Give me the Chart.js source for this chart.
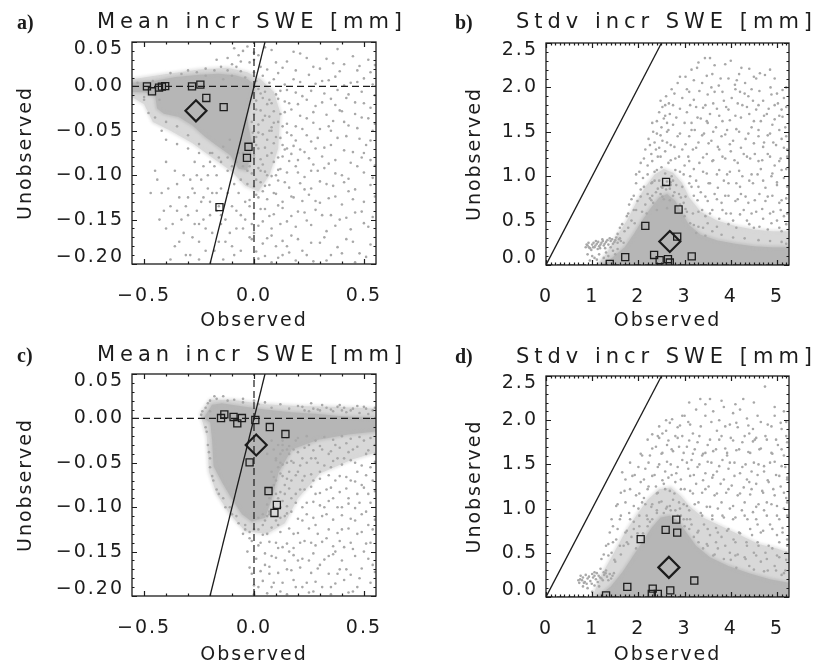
<!DOCTYPE html>
<html>
<head>
<meta charset="utf-8">
<script src="https://cdn.jsdelivr.net/npm/chart.js@4/dist/chart.umd.min.js"></script>
<style>
  html, body { margin: 0; padding: 0; background: #fff; }
  body { position: relative; width: 819px; height: 668px; overflow: hidden; }
  canvas { position: absolute; }
  .tag, .ttl { position: absolute; white-space: nowrap; color: #1c1c1c; will-change: transform; }
  .tag { font: bold 20px 'Liberation Serif', 'DejaVu Serif', serif; line-height: 20px; }
  .ttl { font: 21px 'DejaVu Sans', sans-serif; line-height: 21px; }
</style>
</head>
<body>
<div class="tag" style="left:17px;top:12px">a)</div>
<div class="ttl" data-w="310" style="left:97px;top:11px">Mean incr SWE [mm]</div>
<div class="tag" style="left:455px;top:12px">b)</div>
<div class="ttl" data-w="301" style="left:516px;top:11px">Stdv incr SWE [mm]</div>
<div class="tag" style="left:17px;top:345px">c)</div>
<div class="ttl" data-w="310" style="left:97px;top:344px">Mean incr SWE [mm]</div>
<div class="tag" style="left:455px;top:346px">d)</div>
<div class="ttl" data-w="301" style="left:516px;top:346px">Stdv incr SWE [mm]</div>

<canvas id="pa" width="410" height="334" style="left:0;top:0"></canvas>
<canvas id="pb" width="409" height="334" style="left:410px;top:0"></canvas>
<canvas id="pc" width="410" height="334" style="left:0;top:334px"></canvas>
<canvas id="pd" width="409" height="334" style="left:410px;top:334px"></canvas>

<script>
const INK = '#1c1c1c';
const CORE_GRAY = '#b6b6b6';
const HALO_GRAY = '#d8d8d8';
const PIXEL_GRAY = '#a8a8a8';
const FONT = "'DejaVu Sans', sans-serif";

// ---- axes ----
const MEAN_X_TICKS = [-0.5, 0, 0.5];
const MEAN_X_LABELS = ['\u22120.5', '0.0', '0.5'];
const MEAN_Y_TICKS = [-0.2, -0.15, -0.1, -0.05, 0, 0.05];
const MEAN_Y_LABELS = ['\u22120.20', '\u22120.15', '\u22120.10', '\u22120.05', '0.00', '0.05'];
const STDV_X_TICKS = [0, 1, 2, 3, 4, 5];
const STDV_X_LABELS = ['0', '1', '2', '3', '4', '5'];
const STDV_Y_TICKS = [0, 0.5, 1, 1.5, 2, 2.5];
const STDV_Y_LABELS = ['0.0', '0.5', '1.0', '1.5', '2.0', '2.5'];

// ---- a) mean increments, first experiment ----
const A_CORE = [[-0.555,0.004],[-0.464,0.0057],[-0.358,0.0106],[-0.252,0.0132],[-0.161,0.0143],[-0.085,0.0125],[-0.032,0.0087],[-0.002,0.003],
  [0.003,-0.0044],[-0.017,-0.0157],[-0.032,-0.0307],[-0.025,-0.0457],[-0.01,-0.0626],[-0.017,-0.0795],[-0.032,-0.0945],
  [-0.07,-0.0926],[-0.108,-0.0776],[-0.161,-0.0682],[-0.222,-0.057],[-0.282,-0.0438],[-0.343,-0.0345],[-0.411,-0.0307],[-0.441,-0.025],[-0.449,-0.012],[-0.494,-0.007],[-0.555,-0.0063],[-0.555,0.004]];
const A_HALO = [[-0.555,0.008],[-0.4,0.014],[-0.25,0.019],[-0.12,0.021],[-0.03,0.016],[0.03,0.008],[0.09,-0.006],[0.12,-0.03],[0.11,-0.07],[0.07,-0.1],
  [0.02,-0.118],[-0.04,-0.112],[-0.1,-0.096],[-0.18,-0.082],[-0.28,-0.064],[-0.38,-0.05],[-0.46,-0.04],[-0.5,-0.02],[-0.555,-0.012],[-0.555,0.008]];
const A_PIXELS = [
  [0.02,0.035],[0.08,0.041],[0.15,0.028],[0.21,0.037],[0.27,0.022],[0.33,0.031],[0.41,0.025],[0.47,0.018],[0.52,0.03],
  [0.04,0.012],[0.11,0.015],[0.18,0.008],[0.25,0.013],[0.31,0.006],[0.37,0.011],[0.44,0.004],[0.5,0.009],
  [0.03,-0.008],[0.07,-0.015],[0.12,-0.005],[0.16,-0.019],[0.22,-0.011],[0.28,-0.022],[0.35,-0.014],[0.39,-0.027],[0.46,-0.018],[0.53,-0.024],
  [0.01,-0.026],[0.05,-0.033],[0.09,-0.041],[0.14,-0.029],[0.19,-0.045],[0.24,-0.036],[0.3,-0.048],[0.36,-0.039],[0.43,-0.044],[0.49,-0.035],[0.54,-0.05],
  [0.02,-0.052],[0.06,-0.06],[0.1,-0.057],[0.13,-0.066],[0.17,-0.055],[0.21,-0.071],[0.26,-0.062],[0.32,-0.069],[0.38,-0.058],[0.45,-0.074],[0.51,-0.066],
  [0.0,-0.08],[0.04,-0.088],[0.08,-0.075],[0.12,-0.093],[0.16,-0.084],[0.2,-0.097],[0.25,-0.081],[0.29,-0.095],[0.34,-0.087],[0.4,-0.1],[0.47,-0.09],[0.53,-0.083],
  [0.01,-0.105],[0.05,-0.112],[0.09,-0.12],[0.14,-0.108],[0.18,-0.125],[0.23,-0.116],[0.28,-0.129],[0.33,-0.11],[0.37,-0.124],[0.43,-0.118],[0.5,-0.13],
  [0.03,-0.138],[0.07,-0.146],[0.11,-0.134],[0.15,-0.152],[0.2,-0.141],[0.26,-0.156],[0.31,-0.145],[0.39,-0.15],[0.46,-0.142],[0.52,-0.158],
  [0.0,-0.165],[0.06,-0.171],[0.1,-0.18],[0.17,-0.168],[0.22,-0.185],[0.3,-0.176],[0.35,-0.19],[0.42,-0.172],[0.48,-0.188],
  [0.02,-0.194],[0.08,-0.198],[0.13,-0.19],[0.27,-0.197],
  [-0.01,-0.04],[0.0,-0.062],[0.02,-0.07],[0.03,-0.095],[0.06,-0.1],[0.07,-0.05],[0.09,-0.028],[0.11,-0.08],[0.04,-0.118],[-0.02,-0.09],
  [-0.03,-0.11],[0.02,-0.125],[0.1,-0.1],[0.13,-0.045],[0.06,-0.02],[0.15,-0.07],
  [-0.18,0.018],[-0.12,0.032],[-0.08,0.022],[-0.05,0.04],[-0.02,0.027],[-0.1,0.012],[-0.14,0.008],[0.0,0.016],[-0.04,0.01],[-0.22,0.012],
  [-0.42,-0.12],[-0.38,-0.135],[-0.4,-0.16],[-0.35,-0.11],[-0.33,-0.15],[-0.3,-0.125],[-0.28,-0.17],[-0.31,-0.19],[-0.26,-0.14],[-0.24,-0.105],
  [-0.22,-0.16],[-0.2,-0.13],[-0.18,-0.185],[-0.17,-0.1],[-0.15,-0.155],[-0.12,-0.12],[-0.1,-0.09],[-0.13,-0.175],[-0.08,-0.14],[-0.06,-0.105],
  [-0.05,-0.16],[-0.09,-0.19],[-0.36,-0.095],[-0.27,-0.085],[-0.19,-0.075],[-0.14,-0.068],[-0.11,-0.06],[-0.45,-0.095],[-0.4,-0.085],[-0.34,-0.175],
  [-0.25,-0.195],[-0.21,-0.115],[-0.16,-0.135],[-0.07,-0.075],[-0.04,-0.13],[-0.02,-0.17],[-0.29,-0.105],[-0.23,-0.09],
  [-0.5,-0.012],[-0.46,0.006],[-0.53,0.004],[-0.43,-0.015],
  [-0.4,-0.04],[-0.35,-0.045],[-0.3,-0.055],[-0.25,-0.065],[-0.2,-0.075],[-0.15,-0.085],[-0.45,-0.035],[-0.5,-0.015],[-0.3,0.018],[-0.22,0.02],
  [-0.38,0.015],[-0.12,0.018],[-0.06,0.017],
  [0.05,0.044],[0.18,0.039],[0.38,0.042],[0.0,0.03],[0.1,0.027],[0.24,0.032],[0.36,0.026],[0.45,0.034],[0.55,0.024],
  [0.03,0.022],[0.06,0.019],[0.13,0.021],[0.19,0.018],[0.3,0.02],[0.39,0.017],[0.48,0.023],[0.53,0.016],
  [0.01,0.006],[0.07,0.004],[0.09,0.008],[0.14,0.002],[0.21,0.005],[0.28,0.003],[0.34,0.007],[0.41,0.001],[0.47,0.005],[0.54,0.002],
  [0.02,-0.003],[0.05,-0.006],[0.1,-0.009],[0.15,-0.004],[0.19,-0.007],[0.26,-0.005],[0.32,-0.008],[0.38,-0.004],[0.43,-0.009],[0.49,-0.006],[0.55,-0.01],
  [0.01,-0.016],[0.04,-0.013],[0.08,-0.019],[0.11,-0.014],[0.14,-0.017],[0.2,-0.02],[0.24,-0.015],[0.31,-0.018],[0.37,-0.021],[0.42,-0.013],[0.5,-0.019],
  [0.0,-0.031],[0.03,-0.027],[0.07,-0.034],[0.12,-0.031],[0.17,-0.026],[0.21,-0.033],[0.27,-0.029],[0.33,-0.032],[0.4,-0.028],[0.46,-0.031],[0.52,-0.036],
  [0.02,-0.043],[0.04,-0.038],[0.08,-0.046],[0.11,-0.04],[0.15,-0.042],[0.22,-0.048],[0.27,-0.041],[0.34,-0.045],[0.41,-0.04],[0.47,-0.047],[0.55,-0.042],
  [-0.005,-0.052],[0.01,-0.057],[0.04,-0.054],[0.08,-0.05],[0.12,-0.058],[0.15,-0.052],[0.19,-0.061],[0.24,-0.055],[0.29,-0.058],[0.35,-0.05],[0.42,-0.056],[0.48,-0.059],[0.53,-0.061],
  [0.01,-0.066],[0.05,-0.069],[0.09,-0.064],[0.14,-0.071],[0.18,-0.067],[0.23,-0.074],[0.28,-0.07],[0.35,-0.066],[0.41,-0.072],[0.5,-0.075],
  [0.0,-0.077],[0.03,-0.082],[0.06,-0.078],[0.09,-0.085],[0.13,-0.079],[0.17,-0.076],[0.2,-0.083],[0.27,-0.088],[0.31,-0.079],[0.37,-0.083],[0.44,-0.086],[0.49,-0.08],[0.55,-0.089],
  [-0.01,-0.098],[0.02,-0.092],[0.05,-0.096],[0.08,-0.101],[0.11,-0.094],[0.15,-0.097],[0.19,-0.09],[0.23,-0.102],[0.26,-0.095],[0.32,-0.092],[0.37,-0.098],[0.43,-0.104],[0.5,-0.097],[0.54,-0.103],
  [0.0,-0.113],[0.03,-0.108],[0.07,-0.111],[0.11,-0.106],[0.16,-0.114],[0.21,-0.109],[0.26,-0.115],[0.3,-0.107],[0.36,-0.112],[0.41,-0.108],[0.46,-0.116],[0.53,-0.111],
  [-0.02,-0.128],[0.01,-0.122],[0.06,-0.127],[0.1,-0.121],[0.13,-0.13],[0.17,-0.124],[0.22,-0.129],[0.25,-0.122],[0.3,-0.131],[0.34,-0.126],[0.4,-0.133],[0.45,-0.127],[0.55,-0.124],
  [0.0,-0.143],[0.05,-0.138],[0.09,-0.144],[0.13,-0.137],[0.17,-0.146],[0.23,-0.142],[0.28,-0.139],[0.35,-0.145],[0.42,-0.148],[0.49,-0.141],[0.54,-0.147],
  [0.02,-0.157],[0.04,-0.152],[0.08,-0.16],[0.12,-0.155],[0.19,-0.158],[0.24,-0.151],[0.33,-0.163],[0.37,-0.157],[0.44,-0.161],[0.5,-0.154],
  [-0.01,-0.172],[0.04,-0.177],[0.08,-0.168],[0.13,-0.174],[0.15,-0.18],[0.2,-0.172],[0.26,-0.176],[0.32,-0.17],[0.38,-0.181],[0.45,-0.175],[0.53,-0.178],
  [0.01,-0.186],[0.05,-0.191],[0.11,-0.193],[0.16,-0.187],[0.19,-0.196],[0.24,-0.19],[0.33,-0.196],[0.4,-0.188],[0.46,-0.198],[0.51,-0.192],
  [-0.44,-0.105],[-0.41,-0.14],[-0.39,-0.115],[-0.37,-0.155],[-0.36,-0.18],[-0.34,-0.125],[-0.32,-0.1],[-0.32,-0.165],[-0.3,-0.145],[-0.29,-0.19],
  [-0.27,-0.12],[-0.27,-0.155],[-0.25,-0.175],[-0.24,-0.13],[-0.23,-0.15],[-0.22,-0.185],[-0.21,-0.1],[-0.2,-0.145],[-0.19,-0.165],[-0.19,-0.12],
  [-0.18,-0.09],[-0.17,-0.14],[-0.16,-0.175],[-0.15,-0.115],[-0.14,-0.195],[-0.13,-0.15],[-0.12,-0.095],[-0.11,-0.165],[-0.1,-0.135],[-0.1,-0.18],
  [-0.09,-0.11],[-0.08,-0.16],[-0.07,-0.12],[-0.06,-0.145],[-0.06,-0.185],[-0.05,-0.09],[-0.04,-0.15],[-0.03,-0.095],[-0.02,-0.135],[-0.01,-0.155],
  [-0.35,-0.14],[-0.31,-0.135],[-0.28,-0.115],[-0.26,-0.1],[-0.25,-0.155],[-0.23,-0.125],[-0.17,-0.12],[-0.15,-0.145],[-0.43,-0.15],[-0.38,-0.195],
  [-0.47,-0.12],[-0.05,-0.075],[-0.08,-0.085],[-0.12,-0.08],[-0.16,-0.08],[-0.2,-0.085],[-0.25,-0.075],[-0.3,-0.07],[-0.35,-0.065],[-0.4,-0.06],
  [-0.42,-0.05],[-0.48,-0.03],
  [-0.17,0.03],[-0.1,0.025],[-0.07,0.035],[-0.03,0.045],[-0.15,0.022],[-0.26,0.016],[-0.33,0.014],[-0.06,0.028],[0.0,0.038],[-0.09,0.043]
];
const A_REGIONS = [[-0.487,0.0],[-0.464,-0.0055],[-0.432,-0.0014],[-0.419,-0.0003],[-0.404,0.0003],[-0.282,0.0],[-0.244,0.002],[-0.217,-0.013],[-0.138,-0.0234],[-0.025,-0.068],[-0.032,-0.0805],[-0.157,-0.136]];
const A_MEAN = [[-0.264,-0.0275]];

// ---- b) standard deviation of increments, first experiment ----
const B_CORE = [[1.2,0],[1.45,0.09],[1.7,0.2],[1.9,0.35],[2.08,0.5],[2.25,0.63],[2.45,0.76],[2.62,0.8],[2.8,0.72],[2.95,0.58],[3.1,0.45],[3.35,0.34],[3.7,0.28],[4.1,0.24],[4.5,0.21],[4.9,0.2],[5.27,0.2],[5.27,0],[1.2,0]];
const B_HALO = [[1.1,0],[1.3,0.12],[1.5,0.3],[1.75,0.5],[1.95,0.7],[2.15,0.88],[2.35,1.02],[2.55,1.08],[2.75,1.04],[2.95,0.92],[3.1,0.76],[3.35,0.6],
  [3.7,0.5],[4.1,0.44],[4.5,0.4],[4.9,0.38],[5.27,0.38],[5.27,0],[1.1,0]];
const B_PIXELS = [
  [2.72,1.98],[2.85,2.05],[3.02,2.12],[3.1,1.95],[3.27,2.22],[3.44,2.33],[3.55,2.33],[3.38,2.05],[3.6,2.15],[3.74,2.02],[3.88,2.26],[3.95,2.1],
  [4.09,2.03],[4.13,2.08],[4.23,2.22],[4.31,2.05],[4.45,1.98],[4.55,2.1],[4.63,2.16],[4.74,2.14],[4.86,2.0],[5.0,1.93],[5.15,1.88],[4.38,1.9],
  [3.2,1.86],[2.95,1.88],[2.6,1.9],[2.66,1.82],[3.5,1.92],[4.02,1.88],[4.7,1.85],
  [2.45,1.72],[2.55,1.65],[2.68,1.7],[2.5,1.55],[2.4,1.48],[2.62,1.5],[2.75,1.58],[2.35,1.38],[2.52,1.4],[2.7,1.35],[2.85,1.45],[2.28,1.25],
  [2.42,1.22],[2.58,1.28],[2.8,1.2],[2.95,1.3],[2.2,1.12],[2.35,1.05],[2.5,1.1],[2.65,1.15],[2.9,1.05],[2.1,0.98],[2.28,0.92],[2.45,0.95],
  [2.72,1.0],[3.0,1.12],[2.05,0.85],[2.2,0.8],[2.38,0.82],[2.6,0.85],[2.82,0.9],[1.98,0.72],[2.15,0.68],[2.32,0.7],[2.55,0.74],[2.75,0.78],
  [1.9,0.62],[2.08,0.6],[2.4,0.62],[2.62,0.64],[2.98,0.7],[2.88,0.8],[2.58,1.8],[2.48,1.85],[2.3,1.6],[2.22,1.42],[2.15,1.3],[2.05,1.15],
  [1.95,1.02],[2.38,1.3],[2.62,1.6],
  [3.05,1.72],[3.15,1.6],[3.25,1.78],[3.35,1.65],[3.45,1.8],[3.55,1.7],[3.7,1.76],[3.82,1.62],[3.95,1.75],[4.1,1.68],[4.25,1.8],[4.4,1.7],
  [3.1,1.45],[3.22,1.52],[3.3,1.38],[3.42,1.48],[3.58,1.4],[3.68,1.55],[3.8,1.45],[3.92,1.52],[4.05,1.4],[4.18,1.5],[4.32,1.42],[4.45,1.55],
  [3.08,1.22],[3.18,1.3],[3.32,1.15],[3.48,1.25],[3.62,1.18],[3.75,1.3],[3.88,1.2],[4.0,1.28],[4.15,1.15],[4.28,1.25],[4.42,1.2],
  [3.12,1.0],[3.25,0.95],[3.4,1.05],[3.55,0.92],[3.7,1.02],[3.85,0.95],[3.98,1.05],[4.12,0.92],[4.25,1.0],[4.4,0.95],
  [3.2,0.78],[3.35,0.82],[3.5,0.72],[3.65,0.8],[3.8,0.7],[3.95,0.78],[4.1,0.72],[4.22,0.8],[4.38,0.7],
  [3.3,0.6],[3.45,0.55],[3.6,0.62],[3.75,0.52],[3.9,0.58],[4.05,0.5],[4.2,0.57],[4.35,0.5],[3.15,0.88],[3.05,0.6],[3.5,1.6],[3.85,1.85],
  [4.2,1.95],[3.65,1.95],
  [4.55,1.75],[4.65,1.62],[4.78,1.7],[4.9,1.58],[5.05,1.68],[5.18,1.55],[4.6,1.45],[4.72,1.38],[4.85,1.48],[4.98,1.35],[5.1,1.42],[5.22,1.3],
  [4.52,1.25],[4.68,1.18],[4.8,1.25],[4.95,1.12],[5.08,1.2],[5.2,1.08],[4.58,1.02],[4.7,0.95],[4.88,1.0],[5.0,0.9],[5.15,0.98],
  [4.62,0.8],[4.75,0.72],[4.9,0.78],[5.05,0.7],[5.2,0.75],[4.55,0.6],[4.7,0.52],[4.85,0.58],[5.0,0.5],[5.15,0.55],[4.5,0.42],[4.8,0.4],
  [5.1,0.38],[4.95,1.8],[5.1,1.75],[4.48,1.85],
  [0.86,0.2],[0.9,0.22],[0.95,0.19],[1.0,0.23],[1.05,0.2],[1.1,0.24],[1.15,0.21],[1.2,0.25],[1.25,0.22],[1.3,0.26],[1.35,0.23],[1.4,0.27],
  [1.45,0.24],[1.5,0.28],[1.55,0.25],[0.92,0.25],[1.08,0.27],[1.22,0.29],[1.38,0.3],[1.52,0.31],[1.12,0.18],[1.28,0.19],[0.98,0.17],
  [1.6,0.42],[1.75,0.55],[1.85,0.5],[1.7,0.38],[1.55,0.35],[1.9,0.78],[1.8,0.68],[3.2,0.45],[3.4,0.42],[3.6,0.38],[2.25,0.75],[2.5,0.88],
  [2.7,0.9],[2.9,0.68],[3.0,0.55],[1.4,0.2],[1.3,0.14],[1.05,0.08],[0.95,0.05],
  [2.3,0.78],[2.42,0.86],[2.55,0.9],[2.68,0.86],[2.78,0.82],[2.92,0.76],[2.48,0.8],[2.62,0.94],[2.35,0.95],[2.75,0.95],
  [3.3,2.28],[3.65,2.25],[4.0,2.3],[4.4,2.21],[4.85,2.2],[3.15,2.2],
  [2.9,2.12],[3.2,2.08],[3.48,2.13],[3.78,2.1],[4.18,2.15],[4.5,2.12],[4.95,2.1],[5.2,2.0],
  [2.78,1.93],[3.05,1.98],[3.32,1.96],[3.58,2.0],[3.82,1.95],[4.1,1.98],[4.3,1.93],[4.62,1.96],[4.88,1.92],[5.12,1.97],
  [2.52,1.78],[2.75,1.8],[2.9,1.76],[3.12,1.8],[3.4,1.77],[3.62,1.82],[3.9,1.78],[4.15,1.82],[4.35,1.78],[4.6,1.8],[4.82,1.76],[5.02,1.82],[5.2,1.78],
  [2.4,1.62],[2.58,1.68],[2.82,1.66],[3.0,1.6],[3.28,1.66],[3.48,1.62],[3.75,1.68],[3.98,1.63],[4.22,1.66],[4.5,1.62],[4.72,1.68],[4.95,1.64],[5.12,1.67],
  [2.32,1.5],[2.48,1.46],[2.65,1.52],[2.9,1.48],[3.15,1.52],[3.38,1.46],[3.62,1.5],[3.88,1.47],[4.12,1.53],[4.38,1.48],[4.6,1.52],[4.8,1.46],[5.05,1.52],[5.2,1.45],
  [2.25,1.35],[2.45,1.32],[2.62,1.38],[2.78,1.33],[3.02,1.36],[3.25,1.32],[3.52,1.37],[3.72,1.33],[3.98,1.36],[4.22,1.32],[4.5,1.37],[4.7,1.33],[4.92,1.38],[5.15,1.32],
  [2.12,1.2],[2.3,1.17],[2.48,1.22],[2.7,1.18],[2.88,1.22],[3.1,1.17],[3.4,1.21],[3.6,1.17],[3.82,1.22],[4.08,1.18],[4.35,1.22],[4.6,1.17],[4.85,1.22],[5.05,1.17],[5.22,1.22],
  [2.02,1.05],[2.2,1.02],[2.4,1.07],[2.58,1.03],[2.8,1.07],[2.98,1.02],[3.2,1.08],[3.48,1.03],[3.75,1.07],[3.92,1.02],[4.18,1.06],[4.45,1.02],[4.65,1.08],[4.9,1.03],[5.1,1.07],
  [1.95,0.92],[2.12,0.88],[2.3,0.93],[2.52,0.87],[2.7,0.93],[2.95,0.88],[3.1,0.92],[3.3,0.88],[3.52,0.92],[3.72,0.87],[3.95,0.92],[4.2,0.88],[4.48,0.92],[4.75,0.87],[5.0,0.93],[5.22,0.88],
  [1.85,0.74],[2.05,0.77],[2.28,0.73],[2.52,0.77],[2.68,0.73],[3.02,0.77],[3.28,0.73],[3.45,0.77],[3.7,0.74],[3.88,0.78],[4.15,0.74],[4.32,0.77],[4.52,0.73],[4.8,0.77],[5.1,0.73],
  [1.78,0.58],[1.95,0.62],[2.18,0.58],[3.02,0.63],[3.18,0.58],[3.38,0.62],[3.55,0.58],[3.82,0.62],[4.0,0.58],[4.28,0.62],[4.45,0.58],[4.68,0.63],[4.92,0.6],[5.08,0.62],[5.22,0.58],
  [1.65,0.46],[1.78,0.42],[1.92,0.47],[3.12,0.47],[3.3,0.43],[3.5,0.47],[3.7,0.43],[3.95,0.46],[4.12,0.42],[4.4,0.46],[4.62,0.43],[4.88,0.47],[5.05,0.42],[5.2,0.46],
  [3.25,0.36],[3.45,0.33],[3.8,0.34],[4.05,0.31],[4.3,0.3],[4.6,0.28],[4.85,0.27],[5.1,0.26],[5.2,0.24],
  [0.9,0.12],[1.0,0.1],[1.1,0.06],[1.15,0.12],[1.25,0.08],[1.35,0.1],[1.45,0.16],[1.55,0.18],[1.6,0.3],[1.68,0.25],[1.5,0.12],
  [0.88,0.23],[0.93,0.2],[1.03,0.25],[1.07,0.22],[1.13,0.26],[1.18,0.23],[1.23,0.27],[1.33,0.28],[1.43,0.29],[1.48,0.26],[1.58,0.29],[1.62,0.27],
  [1.27,0.24],[1.17,0.19],[1.02,0.2]
];
const B_REGIONS = [[2.6,0.935],[2.87,0.625],[2.15,0.44],[2.84,0.32],[1.715,0.088],[2.34,0.113],[2.46,0.055],[2.64,0.065],[2.68,0.028],[3.155,0.097],[1.38,0.012]];
const B_MEAN = [[2.68,0.265]];

// ---- c) mean increments, second experiment ----
const C_CORE = [[-0.229,0.0005],[-0.191,0.0155],[-0.146,0.017],[-0.055,0.0136],[0.051,0.01],[0.172,0.007],[0.293,0.005],[0.415,0.002],[0.56,0.0005],
  [0.56,-0.0146],[0.43,-0.018],[0.293,-0.024],[0.172,-0.035],[0.112,-0.061],[0.081,-0.091],[0.051,-0.112],[-0.01,-0.116],[-0.055,-0.108],
  [-0.1,-0.091],[-0.146,-0.072],[-0.184,-0.054],[-0.191,-0.024],[-0.199,-0.005],[-0.229,0.0005]];
const C_HALO = [[-0.245,0.005],[-0.2,0.021],[-0.1,0.021],[0.05,0.016],[0.2,0.014],[0.35,0.013],[0.56,0.011],[0.56,-0.038],[0.45,-0.046],[0.3,-0.062],
  [0.2,-0.09],[0.14,-0.118],[0.06,-0.13],[-0.04,-0.127],[-0.11,-0.108],[-0.17,-0.085],[-0.205,-0.06],[-0.215,-0.02],[-0.245,0.005]];
const C_PIXELS = [
  [-0.24,0.004],[-0.22,-0.01],[-0.21,-0.03],[-0.2,-0.045],[-0.22,0.012],[-0.2,0.02],[-0.17,0.022],[-0.12,0.02],[-0.19,-0.065],[-0.17,-0.08],
  [-0.14,-0.09],[-0.11,-0.1],[-0.08,-0.11],[-0.2,0.008],
  [0.05,0.018],[0.12,0.016],[0.2,0.014],[0.26,0.017],[0.33,0.012],[0.39,0.015],[0.45,0.011],[0.5,0.013],[0.54,0.009],[0.0,0.02],[-0.05,0.022],
  [0.08,0.012],[0.16,0.011],[0.23,0.009],[0.29,0.01],[0.36,0.008],[0.42,0.007],[0.48,0.006],
  [0.12,-0.04],[0.15,-0.05],[0.18,-0.035],[0.2,-0.06],[0.22,-0.045],[0.25,-0.03],[0.27,-0.07],[0.29,-0.05],[0.31,-0.035],[0.33,-0.08],
  [0.35,-0.055],[0.37,-0.03],[0.39,-0.065],[0.41,-0.045],[0.43,-0.09],[0.45,-0.035],[0.47,-0.06],[0.49,-0.075],[0.51,-0.04],[0.53,-0.055],
  [0.55,-0.03],[0.14,-0.075],[0.17,-0.09],[0.21,-0.08],[0.24,-0.095],[0.28,-0.085],[0.32,-0.1],[0.36,-0.09],[0.4,-0.1],[0.44,-0.07],
  [0.48,-0.095],[0.52,-0.085],[0.13,-0.025],[0.19,-0.025],[0.26,-0.045],[0.34,-0.04],[0.42,-0.028],[0.5,-0.025],[0.16,-0.06],[0.23,-0.065],
  [0.3,-0.06],[0.38,-0.045],[0.46,-0.05],[0.54,-0.07],[0.11,-0.055],[0.1,-0.085],[0.09,-0.1],
  [0.0,-0.125],[0.03,-0.14],[0.06,-0.13],[0.08,-0.155],[0.11,-0.12],[0.13,-0.145],[0.15,-0.17],[0.18,-0.13],[0.2,-0.16],[0.22,-0.115],
  [0.24,-0.185],[0.26,-0.14],[0.28,-0.12],[0.3,-0.165],[0.33,-0.135],[0.35,-0.19],[0.37,-0.15],[0.4,-0.125],[0.42,-0.17],[0.44,-0.14],
  [0.46,-0.115],[0.48,-0.18],[0.5,-0.15],[0.52,-0.12],[0.54,-0.165],[-0.03,-0.15],[-0.01,-0.175],[0.02,-0.19],[0.05,-0.165],[0.09,-0.185],
  [0.12,-0.195],[0.17,-0.105],[0.19,-0.19],[0.25,-0.16],[0.31,-0.11],[0.38,-0.175],[0.45,-0.195],[0.51,-0.105],[-0.04,-0.125],[0.04,-0.108],
  [0.07,-0.175],[0.16,-0.15],[0.27,-0.195],[0.34,-0.155],[0.41,-0.145],[0.47,-0.13],[0.53,-0.14],[0.0,-0.198],[0.1,-0.14],[0.21,-0.14],
  [0.06,-0.04],[0.08,-0.06],[0.09,-0.035],[0.1,-0.07],[0.07,-0.09],[0.12,-0.1],[0.11,-0.03],[0.06,-0.11],[0.04,-0.12],[0.02,-0.125],
  [0.13,-0.065],[0.14,-0.11],[0.15,-0.035],[0.1,-0.115],
  [0.22,0.013],[0.27,0.011],[0.31,0.015],[0.35,0.01],[0.38,0.013],[0.41,0.012],[0.44,0.009],[0.47,0.014],[0.51,0.011],[0.55,0.012],[0.25,0.008],[0.3,0.009],[0.4,0.009],[0.52,0.005],
  [0.2,-0.022],[0.24,-0.02],[0.28,-0.025],[0.32,-0.021],[0.36,-0.024],[0.4,-0.02],[0.44,-0.023],[0.48,-0.021],[0.53,-0.022],[0.15,-0.022],
  [0.13,-0.036],[0.16,-0.031],[0.2,-0.038],[0.23,-0.033],[0.27,-0.036],[0.3,-0.031],[0.35,-0.037],[0.39,-0.033],[0.43,-0.038],[0.47,-0.032],[0.52,-0.036],[0.55,-0.04],
  [0.1,-0.047],[0.13,-0.052],[0.17,-0.048],[0.21,-0.053],[0.24,-0.05],[0.28,-0.045],[0.32,-0.053],[0.36,-0.048],[0.4,-0.052],[0.44,-0.047],[0.49,-0.053],[0.55,-0.049],
  [0.09,-0.066],[0.12,-0.062],[0.15,-0.068],[0.19,-0.064],[0.22,-0.07],[0.26,-0.063],[0.3,-0.068],[0.34,-0.064],[0.37,-0.07],[0.42,-0.066],[0.46,-0.071],[0.51,-0.064],
  [0.08,-0.078],[0.12,-0.083],[0.16,-0.079],[0.19,-0.085],[0.23,-0.08],[0.26,-0.077],[0.3,-0.084],[0.35,-0.078],[0.39,-0.083],[0.42,-0.079],[0.47,-0.085],[0.5,-0.078],[0.55,-0.082],
  [0.06,-0.097],[0.13,-0.093],[0.15,-0.099],[0.19,-0.095],[0.22,-0.1],[0.27,-0.094],[0.3,-0.098],[0.34,-0.093],[0.38,-0.1],[0.43,-0.096],[0.46,-0.101],[0.53,-0.095],
  [0.02,-0.112],[0.07,-0.108],[0.12,-0.112],[0.15,-0.107],[0.2,-0.113],[0.24,-0.108],[0.27,-0.112],[0.33,-0.108],[0.36,-0.114],[0.4,-0.109],[0.44,-0.113],[0.49,-0.108],[0.55,-0.114],
  [-0.02,-0.128],[0.04,-0.131],[0.08,-0.123],[0.12,-0.128],[0.16,-0.124],[0.2,-0.129],[0.25,-0.124],[0.29,-0.13],[0.34,-0.125],[0.38,-0.129],[0.43,-0.124],[0.49,-0.128],[0.54,-0.125],
  [-0.01,-0.138],[0.02,-0.143],[0.07,-0.139],[0.11,-0.146],[0.15,-0.141],[0.18,-0.146],[0.23,-0.138],[0.28,-0.143],[0.31,-0.139],[0.36,-0.144],[0.39,-0.138],[0.45,-0.147],[0.51,-0.141],
  [0.01,-0.158],[0.05,-0.152],[0.1,-0.157],[0.14,-0.16],[0.18,-0.154],[0.22,-0.158],[0.27,-0.152],[0.32,-0.159],[0.36,-0.153],[0.4,-0.16],[0.46,-0.155],[0.52,-0.158],
  [-0.02,-0.168],[0.03,-0.172],[0.07,-0.167],[0.11,-0.174],[0.17,-0.171],[0.21,-0.168],[0.26,-0.174],[0.29,-0.169],[0.34,-0.175],[0.39,-0.17],[0.44,-0.176],[0.49,-0.169],[0.55,-0.173],
  [0.0,-0.188],[0.04,-0.183],[0.08,-0.19],[0.13,-0.185],[0.18,-0.182],[0.22,-0.19],[0.28,-0.184],[0.31,-0.19],[0.37,-0.186],[0.41,-0.182],[0.47,-0.19],[0.53,-0.185],
  [0.06,-0.197],[0.15,-0.198],[0.25,-0.196],[0.35,-0.198],[0.43,-0.196],
  [-0.215,-0.015],[-0.205,-0.038],[-0.2,-0.055],[-0.185,-0.07],[-0.16,-0.085],[-0.13,-0.1],[-0.1,-0.108],[-0.07,-0.118],[-0.04,-0.12],[-0.235,0.008],
  [-0.21,0.017],[-0.18,0.025],[-0.14,0.025],[-0.09,0.021],[-0.05,0.018],[0.02,0.016],[-0.02,-0.135],[-0.05,-0.13],
  [0.08,-0.025],[0.1,-0.045],[0.12,-0.05],[0.09,-0.075],[0.11,-0.09],[0.14,-0.085],[0.07,-0.105],[0.05,-0.115],[0.13,-0.03],[0.16,-0.04],[0.17,-0.07],[0.18,-0.05]
];
const C_REGIONS = [[-0.15,0.0004],[-0.135,0.0046],[-0.093,0.0016],[-0.076,-0.0056],[-0.055,0.0004],[0.006,-0.0018],[0.072,-0.0097],[0.143,-0.0176],[-0.02,-0.0495],[0.066,-0.0818],[0.104,-0.0975],[0.093,-0.1065]];
const C_MEAN = [[0.01,-0.03]];

// ---- d) standard deviation of increments, second experiment ----
const D_CORE = [[1.1,0],[1.4,0.12],[1.65,0.28],[1.88,0.46],[2.08,0.62],[2.28,0.78],[2.48,0.9],[2.68,0.92],[2.88,0.85],[3.05,0.72],[3.25,0.58],[3.55,0.45],[3.95,0.35],[4.4,0.27],[4.85,0.2],[5.27,0.16],[5.27,0],[1.1,0]];
const D_HALO = [[1.0,0],[1.2,0.25],[1.45,0.48],[1.7,0.72],[1.95,0.92],[2.2,1.1],[2.45,1.22],[2.7,1.24],[2.92,1.14],[3.12,1.02],[3.4,0.9],[3.8,0.8],
  [4.2,0.7],[4.6,0.6],[5.0,0.55],[5.27,0.5],[5.27,0],[1.0,0]];
const D_PIXELS = [
  [2.45,1.8],[2.6,1.88],[2.73,2.01],[2.85,1.92],[3.0,2.05],[3.12,1.95],[3.25,2.12],[3.34,2.24],[3.45,2.05],[3.55,2.24],[3.62,2.1],[3.75,2.0],
  [3.85,2.15],[3.98,1.95],[4.05,2.08],[4.15,1.92],[4.27,2.24],[4.35,2.02],[4.48,1.9],[4.58,2.05],[4.74,2.38],[4.8,1.95],[4.95,2.05],[5.1,1.9],
  [5.2,1.98],[3.18,1.85],[3.7,1.88],[4.4,1.85],[2.95,1.82],[4.2,2.12],
  [1.65,1.41],[1.87,1.37],[2.08,1.6],[2.3,1.84],[1.55,1.05],[1.7,1.2],[1.8,0.95],[1.95,1.15],[2.05,1.3],[2.15,1.45],[2.25,1.6],[2.38,1.7],
  [2.5,1.62],[2.62,1.72],[2.75,1.65],[2.88,1.7],[1.45,0.8],[1.6,0.88],[1.75,0.75],[1.9,0.85],[2.0,1.0],[2.12,1.12],[2.22,1.25],[2.35,1.38],
  [2.45,1.5],[2.58,1.42],[2.7,1.5],[2.82,1.4],[2.95,1.55],[1.35,0.6],[1.52,0.65],[1.68,0.58],[1.85,0.68],[2.02,0.8],[2.18,0.92],[2.3,1.05],
  [2.42,1.18],[2.55,1.28],[2.68,1.2],[2.8,1.3],[2.92,1.22],[2.5,1.08],[2.62,1.02],[2.75,1.1],[2.9,1.0],[2.4,0.98],[2.55,0.95],[2.7,0.98],
  [2.85,0.92],[2.98,1.05],[2.3,0.88],[2.2,0.8],[2.98,0.88],[2.65,1.35],[2.38,1.25],[2.15,1.05],[1.98,0.72],[1.25,0.48],[1.42,0.5],[2.52,1.85],[2.8,1.82],
  [3.05,1.7],[3.18,1.62],[3.28,1.75],[3.38,1.6],[3.5,1.72],[3.62,1.65],[3.75,1.78],[3.88,1.68],[4.0,1.8],[4.12,1.66],[4.25,1.75],[4.38,1.64],
  [4.48,1.76],[3.08,1.45],[3.2,1.38],[3.32,1.5],[3.45,1.4],[3.58,1.52],[3.7,1.42],[3.82,1.55],[3.95,1.45],[4.08,1.52],[4.2,1.4],[4.32,1.5],
  [4.45,1.42],[3.12,1.2],[3.25,1.28],[3.38,1.18],[3.52,1.25],[3.65,1.15],[3.78,1.28],[3.9,1.18],[4.02,1.26],[4.15,1.15],[4.28,1.24],[4.42,1.16],
  [3.1,0.98],[3.22,1.05],[3.35,0.95],[3.48,1.02],[3.6,0.92],[3.72,1.0],[3.85,0.9],[3.98,1.0],[4.1,0.9],[4.24,0.98],[4.36,0.88],[4.48,0.96],
  [3.15,0.82],[3.3,0.75],[3.42,0.82],[3.55,0.7],[3.68,0.78],[3.8,0.68],[3.92,0.75],[4.06,0.65],[4.2,0.72],[4.34,0.62],[4.46,0.7],[3.5,0.58],
  [3.72,0.55],[3.98,0.5],[4.15,0.48],[4.3,0.45],[3.05,0.88],[3.4,1.62],[3.92,1.6],[4.4,1.3],[3.6,1.35],[3.15,1.55],
  [4.55,1.8],[4.65,1.68],[4.78,1.78],[4.9,1.62],[5.02,1.72],[5.15,1.6],[5.22,1.75],[4.6,1.5],[4.72,1.42],[4.85,1.52],[4.98,1.38],[5.1,1.48],
  [5.22,1.35],[4.55,1.28],[4.68,1.2],[4.82,1.3],[4.95,1.15],[5.08,1.25],[5.2,1.12],[4.6,1.05],[4.72,0.98],[4.88,1.05],[5.0,0.92],[5.15,1.0],
  [4.58,0.82],[4.7,0.75],[4.85,0.82],[5.0,0.7],[5.12,0.78],[5.22,0.65],[4.6,0.58],[4.75,0.5],[4.9,0.55],[5.05,0.45],[5.2,0.5],[4.65,0.4],
  [4.95,0.35],[5.18,0.3],[4.5,0.5],
  [0.72,0.16],[0.78,0.19],[0.84,0.17],[0.9,0.21],[0.96,0.18],[1.02,0.22],[1.08,0.2],[1.14,0.24],[1.2,0.21],[1.26,0.25],[1.32,0.23],[1.38,0.26],
  [1.44,0.24],[0.8,0.22],[0.88,0.15],[1.0,0.26],[1.12,0.17],[1.25,0.28],[1.35,0.19],[0.75,0.24],
  [1.5,0.4],[1.62,0.48],[1.78,0.6],[1.95,0.55],[2.1,0.72],[2.25,0.85],[2.4,0.95],[2.6,1.0],[2.8,0.98],[3.0,0.8],[3.2,0.68],[3.4,0.55],
  [3.65,0.48],[4.0,0.42],[4.4,0.35],[4.8,0.3],[5.1,0.25],[1.3,0.3],[1.15,0.12],[1.0,0.06],
  [3.1,2.2],[3.45,2.18],[3.8,2.22],[4.1,2.18],[4.5,2.2],[4.95,2.15],[5.15,2.1],[2.6,2.0],[2.95,2.05],
  [2.45,1.93],[2.68,1.97],[2.9,1.94],[3.08,1.98],[3.35,1.93],[3.58,1.98],[3.88,1.93],[4.12,1.97],[4.38,1.94],[4.65,1.98],[4.88,1.93],[5.08,1.97],
  [2.2,1.78],[2.42,1.82],[2.65,1.77],[2.85,1.8],[3.1,1.77],[3.32,1.82],[3.55,1.78],[3.8,1.82],[4.05,1.77],[4.3,1.82],[4.52,1.78],[4.75,1.82],[4.98,1.78],[5.2,1.82],
  [2.05,1.62],[2.3,1.68],[2.52,1.63],[2.72,1.67],[2.98,1.63],[3.22,1.67],[3.45,1.63],[3.68,1.67],[3.92,1.63],[4.18,1.67],[4.42,1.63],[4.62,1.67],[4.88,1.63],[5.1,1.67],
  [1.82,1.52],[2.0,1.47],[2.22,1.52],[2.42,1.47],[2.62,1.53],[2.85,1.47],[3.05,1.52],[3.28,1.47],[3.5,1.53],[3.75,1.48],[3.98,1.52],[4.25,1.47],[4.5,1.52],[4.72,1.48],[4.95,1.53],[5.18,1.47],
  [1.72,1.33],[1.92,1.38],[2.12,1.33],[2.3,1.37],[2.52,1.32],[2.72,1.38],[2.92,1.33],[3.12,1.37],[3.4,1.32],[3.62,1.38],[3.85,1.33],[4.08,1.37],[4.35,1.33],[4.58,1.38],[4.8,1.32],[5.05,1.37],[5.22,1.33],
  [1.62,1.18],[1.82,1.22],[2.02,1.17],[2.2,1.22],[2.4,1.17],[2.58,1.22],[2.78,1.17],[3.0,1.22],[3.18,1.17],[3.45,1.22],[3.7,1.17],[3.95,1.22],[4.2,1.17],[4.45,1.22],[4.7,1.18],[4.92,1.22],[5.15,1.18],
  [1.52,1.03],[1.72,1.07],[1.9,1.03],[2.08,1.07],[2.28,1.02],[2.45,1.07],[2.68,1.03],[2.88,1.07],[3.05,1.03],[3.3,1.07],[3.55,1.02],[3.8,1.07],[4.05,1.03],[4.3,1.07],[4.55,1.02],[4.78,1.07],[5.0,1.03],[5.22,1.07],
  [1.42,0.88],[1.62,0.92],[1.82,0.88],[2.02,0.92],[2.2,0.88],[2.92,0.92],[3.12,0.88],[3.38,0.92],[3.6,0.88],[3.82,0.92],[4.05,0.88],[4.3,0.92],[4.55,0.88],[4.78,0.92],[5.05,0.88],[5.22,0.92],
  [1.38,0.73],[1.55,0.77],[1.72,0.73],[1.9,0.77],[3.1,0.77],[3.28,0.73],[3.5,0.77],[3.72,0.73],[3.95,0.77],[4.18,0.73],[4.42,0.77],[4.65,0.73],[4.9,0.77],[5.12,0.73],
  [1.3,0.58],[1.45,0.62],[1.6,0.58],[1.75,0.62],[3.3,0.62],[3.48,0.6],[3.68,0.62],[3.88,0.58],[4.1,0.62],[4.35,0.58],[4.58,0.62],[4.82,0.58],[5.05,0.62],[5.22,0.58],
  [1.2,0.43],[1.35,0.47],[1.48,0.42],[3.62,0.47],[3.85,0.43],[4.1,0.47],[4.32,0.43],[4.55,0.47],[4.78,0.43],[5.0,0.47],[5.2,0.42],
  [1.05,0.28],[1.18,0.32],[4.12,0.33],[4.5,0.31],[4.72,0.29],[4.98,0.3],[5.15,0.27],
  [0.74,0.2],[0.82,0.16],[0.86,0.25],[0.93,0.23],[0.99,0.15],[1.05,0.24],[1.1,0.27],[1.17,0.22],[1.23,0.19],[1.29,0.27],[1.41,0.21],[1.47,0.27],
  [0.7,0.19],[0.8,0.12],[0.9,0.1],[1.05,0.13]
];
const D_REGIONS = [[2.82,0.875],[2.59,0.76],[2.84,0.728],[2.05,0.655],[3.21,0.186],[2.69,0.075],[2.31,0.095],[1.76,0.115],[2.29,0.034],[2.42,0.034],[1.3,0.017]];
const D_MEAN = [[2.66,0.335]];

const xy = list => list.map(p => ({ x: p[0], y: p[1] }));

// inward major/minor tick marks on all four sides plus the frame;
// the filled density areas get soft edges like the scattered cloud around them
const frameTicks = {
  id: 'frameTicks',
  beforeDraw(chart) { chart.ctx.letterSpacing = '2px'; },
  beforeDatasetDraw(chart, args) {
    if (chart.data.datasets[args.index].soft) { chart.ctx.save(); chart.ctx.filter = 'blur(1.5px)'; }
  },
  afterDatasetDraw(chart, args) {
    if (chart.data.datasets[args.index].soft) chart.ctx.restore();
  },
  afterDatasetsDraw(chart, args, o) {
    const { ctx, chartArea: a, scales: { x, y } } = chart;
    ctx.save();
    ctx.strokeStyle = INK;
    ctx.lineWidth = 1.2;
    ctx.beginPath();
    const vert = (v, len) => {
      const p = Math.round(x.getPixelForValue(v)) + 0.5;
      ctx.moveTo(p, a.bottom); ctx.lineTo(p, a.bottom - len);
      ctx.moveTo(p, a.top); ctx.lineTo(p, a.top + len);
    };
    const horz = (v, len) => {
      const p = Math.round(y.getPixelForValue(v)) + 0.5;
      ctx.moveTo(a.left, p); ctx.lineTo(a.left + len, p);
      ctx.moveTo(a.right, p); ctx.lineTo(a.right - len, p);
    };
    const steps = (min, max, step) => {
      const out = [];
      for (let k = Math.ceil(min / step - 1e-9); k * step <= max + 1e-9; k++) out.push(k * step);
      return out;
    };
    steps(x.min, x.max, o.xMinor).forEach(v => vert(v, 2.5));
    steps(y.min, y.max, o.yMinor).forEach(v => horz(v, 2.5));
    o.xMajor.forEach(v => vert(v, 5));
    o.yMajor.forEach(v => horz(v, 5));
    ctx.stroke();
    ctx.lineWidth = 1.3;
    ctx.strokeRect(a.left, a.top, a.right - a.left, a.bottom - a.top);
    ctx.restore();
  }
};

function panel(id, s) {
  const tickFont = { family: FONT, size: 19 };
  const lastY = s.yTicks.length - 1;
  const area = (label, pts, color, order) => ({ label, data: xy(pts), showLine: true, fill: 'shape', pointRadius: 0,
    borderWidth: 2, borderColor: color, backgroundColor: color, order, soft: true });
  new Chart(document.getElementById(id), {
    type: 'scatter',
    plugins: [frameTicks],
    data: {
      datasets: [
        { label: 'mean', data: xy(s.mean), pointStyle: 'rectRot', pointRadius: 10.5, borderWidth: 2.2,
          borderColor: INK, backgroundColor: 'rgba(0,0,0,0)', order: 0 },
        { label: 'regions', data: xy(s.regions), pointStyle: 'rect', pointRadius: 5, borderWidth: 1.3,
          borderColor: INK, backgroundColor: 'rgba(0,0,0,0)', order: 1 },
        { label: '1:1', data: xy(s.diag), showLine: true, pointRadius: 0, borderColor: INK, borderWidth: 1.3, order: 2 },
        ...s.zero.map(seg => ({ label: 'zero', data: xy(seg), showLine: true, pointRadius: 0, borderColor: INK,
          borderWidth: 1.2, borderDash: [7, 4], order: 2 })),
        { label: 'pixels', data: xy(s.pixels), pointRadius: 1.3, borderWidth: 0, backgroundColor: PIXEL_GRAY, order: 3 },
        area('core', s.core, CORE_GRAY, 4),
        area('halo', s.halo, HALO_GRAY, 5)
      ]
    },
    options: {
      responsive: false, animation: false, events: [],
      layout: { padding: { left: 0, top: s.pad[0], right: s.pad[1], bottom: 0 } },
      plugins: {
        legend: { display: false }, tooltip: { enabled: false },
        frameTicks: { xMajor: s.xTicks, yMajor: s.yTicks, xMinor: s.xMinor, yMinor: s.yMinor }
      },
      scales: {
        x: {
          type: 'linear', min: s.xRange[0], max: s.xRange[1], bounds: 'data',
          grid: { display: false, drawTicks: false }, border: { display: false },
          afterBuildTicks: ax => { ax.ticks = s.xTicks.map(v => ({ value: v })); },
          afterFit: ax => { ax.height = s.xH; },
          ticks: { autoSkip: false, maxRotation: 0, padding: 21, color: INK, font: tickFont,
            callback: (v, i) => s.xLabels[i] },
          title: { display: true, text: 'Observed', color: INK, font: tickFont, padding: { top: 0, bottom: 1.6 } }
        },
        y: {
          type: 'linear', min: s.yRange[0], max: s.yRange[1], bounds: 'data',
          grid: { display: false, drawTicks: false }, border: { display: false },
          afterBuildTicks: ax => { ax.ticks = s.yTicks.map(v => ({ value: v })); },
          afterFit: ax => { ax.width = s.yW; },
          ticks: { autoSkip: false, padding: 8, color: INK, font: { ...tickFont, lineHeight: '14px' },
            callback: (v, i) => i === 0 ? [s.yLabels[i], ''] : (i === lastY ? ['', s.yLabels[i]] : s.yLabels[i]) },
          title: { display: true, text: 'Unobserved', color: INK, font: tickFont, padding: { top: s.yTitlePad, bottom: 0 } }
        }
      }
    }
  });
}

const MEAN_AXES = { xRange: [-0.555, 0.555], yRange: [-0.2, 0.05], xTicks: MEAN_X_TICKS, xLabels: MEAN_X_LABELS,
  yTicks: MEAN_Y_TICKS, yLabels: MEAN_Y_LABELS, xMinor: 0.1, yMinor: 0.01,
  diag: [[-0.2, -0.2], [0.05, 0.05]], zero: [[[-0.555, 0], [0.555, 0]], [[0, -0.2], [0, 0.05]]], yW: 132, yTitlePad: 15 };
const STDV_AXES = { xRange: [0, 5.26], yRange: [0, 2.5], xTicks: STDV_X_TICKS, xLabels: STDV_X_LABELS,
  yTicks: STDV_Y_TICKS, yLabels: STDV_Y_LABELS, xMinor: 0.1, yMinor: 0.1,
  diag: [[0, 0], [2.5, 2.5]], zero: [[[0, 0], [5.26, 0]]], yW: 136, yTitlePad: 53.5 };

function draw() {
  document.querySelectorAll('.ttl').forEach(el => {
    const target = +el.dataset.w;
    el.style.letterSpacing = '0px';
    const w0 = el.getBoundingClientRect().width;
    const n = el.textContent.length;
    el.style.letterSpacing = ((target - w0) / n) + 'px';
  });
  panel('pa', { ...MEAN_AXES, core: A_CORE, halo: A_HALO, pixels: A_PIXELS, regions: A_REGIONS, mean: A_MEAN, pad: [42, 34], xH: 70 });
  panel('pb', { ...STDV_AXES, core: B_CORE, halo: B_HALO, pixels: B_PIXELS, regions: B_REGIONS, mean: B_MEAN, pad: [43, 30], xH: 69 });
  panel('pc', { ...MEAN_AXES, core: C_CORE, halo: C_HALO, pixels: C_PIXELS, regions: C_REGIONS, mean: C_MEAN, pad: [40, 34], xH: 72 });
  panel('pd', { ...STDV_AXES, core: D_CORE, halo: D_HALO, pixels: D_PIXELS, regions: D_REGIONS, mean: D_MEAN, pad: [42, 30], xH: 71 });
}
if (document.fonts && document.fonts.load) {
  Promise.all([document.fonts.load("21px 'DejaVu Sans'"), document.fonts.load("bold 20px 'Liberation Serif'")]).then(draw, draw);
} else { draw(); }
</script>
</body>
</html>
